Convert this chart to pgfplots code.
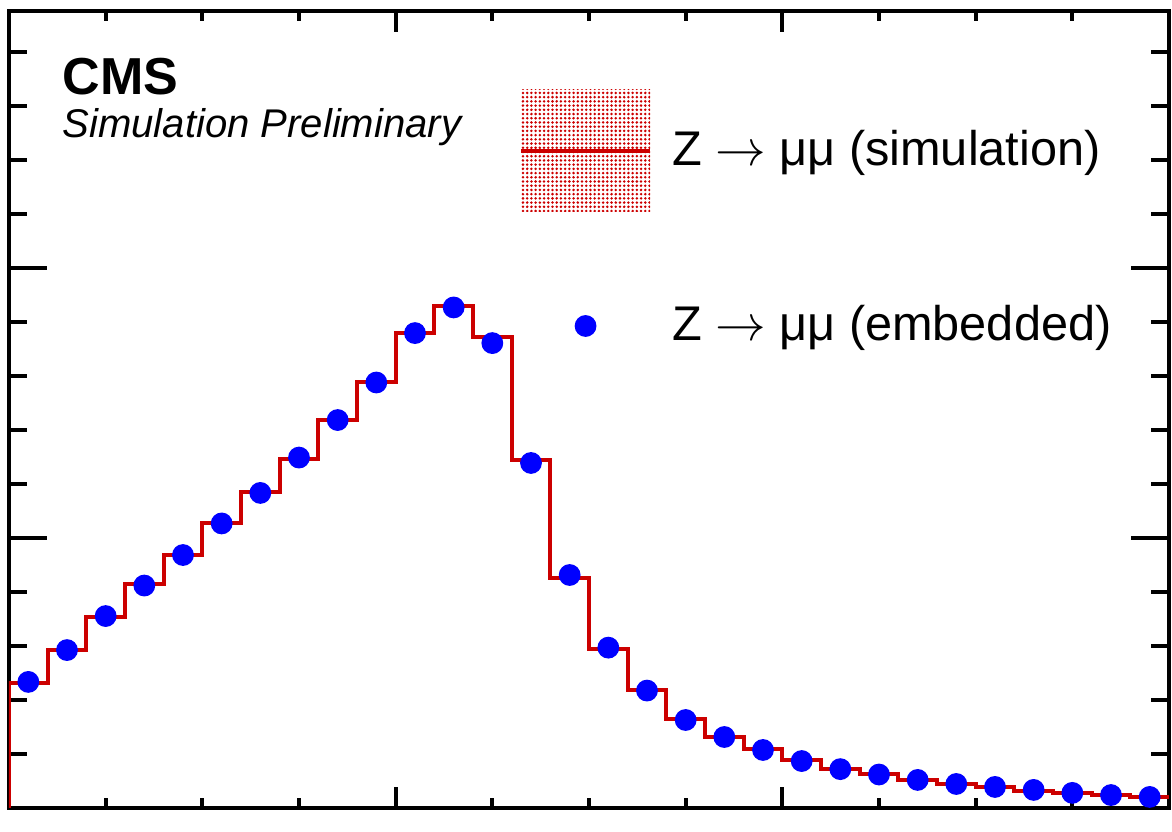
\documentclass[border=0pt]{standalone}
\usepackage{fontspec}
\setmainfont{Liberation Sans}
\usepackage{pgfplots}
\pgfplotsset{compat=1.18}
\usetikzlibrary{patterns.meta}

\definecolor{histred}{RGB}{204,0,0}

% simulation histogram: left bin edge, content (first row closes the left edge)
\pgfplotstableread{
x h
0.0 0
0.0 46.3
0.1 58.7
0.2 70.9
0.3 83.0
0.4 93.7
0.5 105.7
0.6 116.9
0.7 129.4
0.8 143.7
0.9 157.8
1.0 175.9
1.1 185.9
1.2 174.3
1.3 128.9
1.4 85.2
1.5 58.9
1.6 43.7
1.7 33.0
1.8 26.3
1.9 21.9
2.0 17.8
2.1 14.4
2.2 12.6
2.3 10.4
2.4 8.9
2.5 7.8
2.6 6.3
2.7 5.6
2.8 4.8
2.9 4.1
3.0 4.1
}\simtable

% embedded sample: bin centre, content
\pgfplotstableread{
x p
0.05 46.7
0.15 58.5
0.25 71.1
0.35 82.4
0.45 93.7
0.55 105.4
0.65 116.7
0.75 129.8
0.85 143.7
0.95 157.6
1.05 175.9
1.15 185.4
1.25 172.2
1.35 127.8
1.45 86.3
1.55 59.4
1.65 43.5
1.75 32.6
1.85 26.3
1.95 21.5
2.05 17.4
2.15 14.4
2.25 12.4
2.35 10.4
2.45 8.9
2.55 7.8
2.65 6.7
2.75 5.6
2.85 4.8
2.95 4.1
}\embtable

\pgfplotsset{
  cmsframe/.style={
    at={(0,0)}, anchor=south west,
    scale only axis, width=116mm, height=79.7mm,
    xmin=0, xmax=3, ymin=0, ymax=295.2,
    axis line style={line width=1.1pt},
    tick style={line width=1.1pt, black},
    tick align=inside,
    xticklabels={}, yticklabels={},
  }
}

\begin{document}
\begin{tikzpicture}
\path[use as bounding box] (-0.9mm,-2.3mm) rectangle (116.3mm,80.8mm);

% frame and x ticks
\begin{axis}[cmsframe,
  xtick={0,1,2,3},
  minor xtick={0.25,0.5,0.75,1.25,1.5,1.75,2.25,2.5,2.75},
  ytick=\empty,
  xtick pos=both,
  major tick length=2.1mm, minor tick length=1.0mm]
\end{axis}

% y ticks and data
\begin{axis}[cmsframe,
  hide x axis,
  ytick={0,100,200},
  minor ytick={20,40,60,80,120,140,160,180,220,240,260,280},
  ytick pos=both,
  major tick length=3.8mm, minor tick length=1.8mm,
  legend cell align=left,
  legend style={at={(0.4397,0.9009)}, anchor=north west,
    draw=none, fill=none, inner sep=0pt, outer sep=0pt,
    nodes={inner sep=0pt, outer sep=0pt},
    column sep=2.0mm, row sep=5.3mm,
    font=\fontsize{13.85}{16.6}\selectfont}]

\addplot[const plot, color=histred, line width=1.15pt,
  legend image code/.code={
    \fill[draw=none, pattern={Dots[distance=1.2pt, radius=0.4pt]}, pattern color=histred]
      (0,-6.1mm) rectangle (12.9mm,6.1mm);
    \draw[histred, line width=1.15pt] (0,0) -- (12.9mm,0);
  }] table[x=x, y=h] {\simtable};
\addlegendentry{Z \(\rightarrow\) μμ (simulation)}

\addplot[only marks, mark=*, mark size=2.9pt, color=blue,
  mark options={fill=blue, draw=blue},
  legend image code/.code={
    \path[draw=none, fill=none] (0,-6.1mm) rectangle (12.9mm,6.1mm);
    \draw[mark=*, mark size=2.9pt, blue, mark options={fill=blue}]
      plot coordinates {(6.45mm,0mm)};
  }] table[x=x, y=p] {\embtable};
\addlegendentry{Z \(\rightarrow\) μμ (embedded)}

\node[anchor=base west, inner sep=0pt, font=\bfseries\fontsize{14.8}{17}\selectfont]
  at (rel axis cs:0.0457,0.8946) {CMS};
\node[anchor=base west, inner sep=0pt, font=\itshape\fontsize{11.4}{13.7}\selectfont]
  at (rel axis cs:0.0457,0.8407) {Simulation Preliminary};
\end{axis}
\end{tikzpicture}
\end{document}
